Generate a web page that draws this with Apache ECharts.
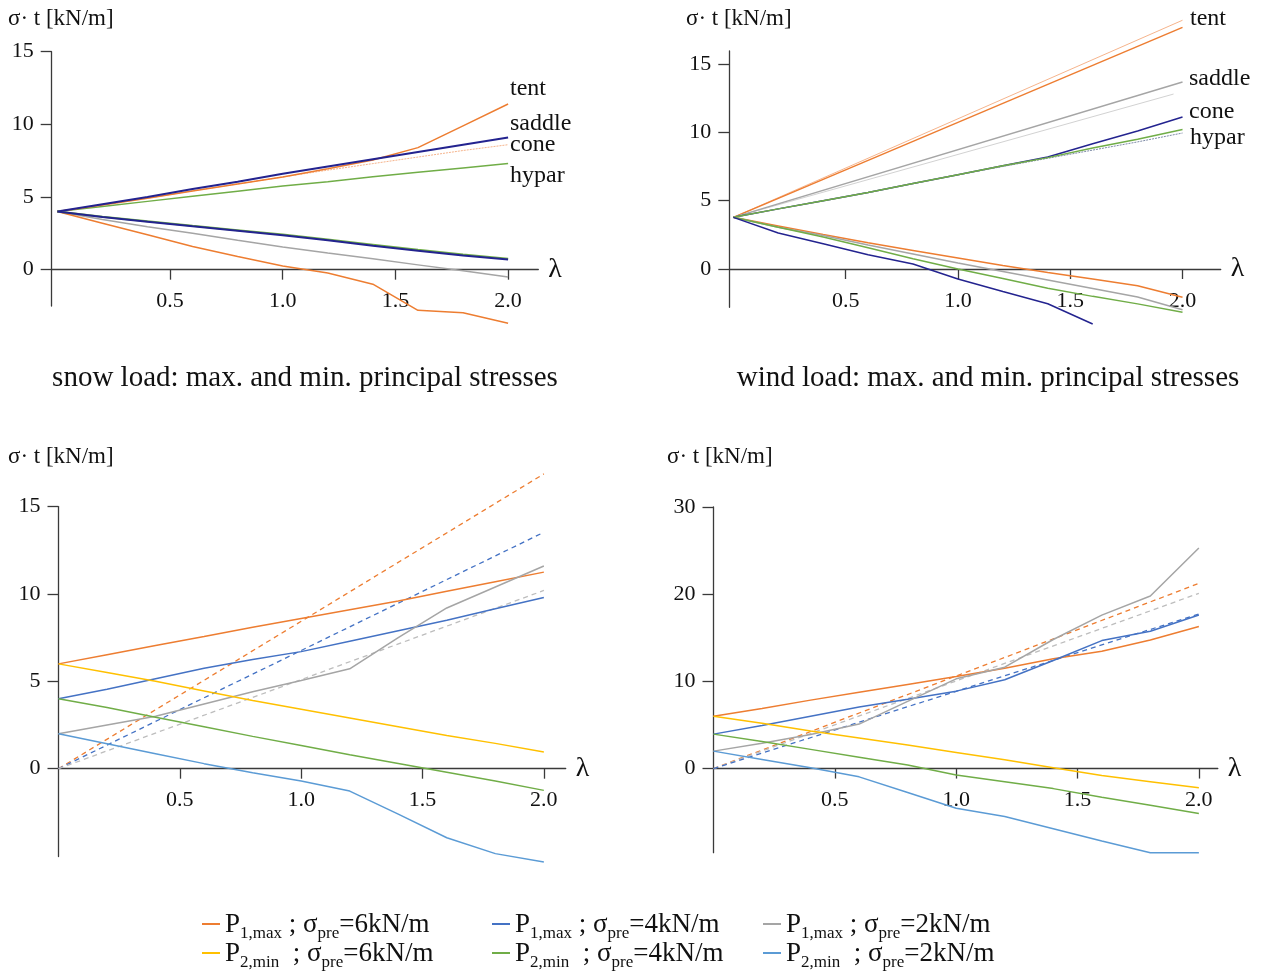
<!DOCTYPE html>
<html>
<head>
<meta charset="utf-8">
<script src="https://cdn.jsdelivr.net/npm/echarts@6/dist/echarts.min.js"></script>
<style>
html,body{margin:0;padding:0;background:#fff;}
#chart{width:1270px;height:971px;}
</style>
</head>
<body>
<div id="chart"></div>
<script>
// ---------- data ----------
const lam = [0, 0.2, 0.4, 0.6, 0.8, 1.0, 1.2, 1.4, 1.6, 1.8, 2.0];
const lamEnds = [0, 2.0];
const xTicks = [0.5, 1.0, 1.5, 2.0];
const yTicks15 = [0, 5, 10, 15];
const yTicks30 = [0, 10, 20, 30];

// snow load (top-left)
const snowTentMax   = [4.0, 4.45, 4.92, 5.42, 5.9, 6.38, 6.95, 7.55, 8.4, 9.9, 11.4];
const snowSaddleMax = [4.0, 4.5, 5.0, 5.55, 6.05, 6.6, 7.1, 7.6, 8.1, 8.6, 9.1];
const snowConeMax   = [4.0, 4.45, 4.92, 5.42, 5.9, 6.38, 6.85, 7.3, 7.75, 8.2, 8.6];
const snowHyparMax  = [4.0, 4.35, 4.7, 5.05, 5.4, 5.75, 6.05, 6.4, 6.7, 7.0, 7.3];
const snowNavyMin   = [4.0, 3.62, 3.3, 2.98, 2.68, 2.37, 2.02, 1.65, 1.3, 0.98, 0.7];
const snowGreenMin  = [4.0, 3.65, 3.33, 3.02, 2.72, 2.42, 2.07, 1.72, 1.37, 1.05, 0.75];
const snowGrayMin   = [4.0, 3.45, 2.95, 2.5, 2.02, 1.56, 1.15, 0.75, 0.33, -0.08, -0.5];
const snowOrangeMin = [4.0, 3.2, 2.4, 1.6, 0.9, 0.25, -0.23, -1.0, -2.8, -2.96, -3.68];

// wind load (top-right)
const windTentMax      = [3.78, 17.68];
const windTentThin     = [3.78, 18.2];
const windSaddleMax    = [3.78, 13.68];
const lamSaddleThin    = [0, 1.96];
const windSaddleThin   = [3.78, 12.8];
const windConeMax      = [3.78, 4.4, 5.0, 5.6, 6.25, 6.9, 7.55, 8.2, 9.17, 10.1, 11.12];
const windHyparMax     = [3.78, 4.4, 5.0, 5.6, 6.25, 6.9, 7.55, 8.15, 8.85, 9.5, 10.2];
const windHyparThin    = [3.78, 4.4, 5.0, 5.6, 6.25, 6.9, 7.5, 8.1, 8.7, 9.3, 9.95];
const windOrangeMin    = [3.78, 3.15, 2.52, 1.92, 1.36, 0.8, 0.25, -0.25, -0.73, -1.22, -2.07];
const windGrayMin      = [3.78, 3.05, 2.45, 1.75, 1.1, 0.44, -0.18, -0.8, -1.42, -2.05, -2.98];
const windGreenMin     = [3.78, 3.05, 2.35, 1.55, 0.75, 0.0, -0.7, -1.4, -2.0, -2.55, -3.17];
const lamNavy          = [0, 0.2, 0.4, 0.6, 0.8, 1.0, 1.2, 1.4, 1.6];
const windNavyMin      = [3.78, 2.63, 1.85, 1.05, 0.37, -0.73, -1.65, -2.54, -4.02];

// bottom-left
const bl_P1max6 = [6.0, 6.52, 7.05, 7.57, 8.1, 8.6, 9.1, 9.6, 10.15, 10.7, 11.25];
const bl_P1max4 = [4.0, 4.55, 5.15, 5.75, 6.25, 6.7, 7.3, 7.9, 8.5, 9.15, 9.8];
const bl_P1max2 = [2.0, 2.5, 3.0, 3.7, 4.4, 5.05, 5.72, 7.5, 9.2, 10.4, 11.6];
const bl_P2min6 = [6.0, 5.5, 5.0, 4.45, 3.9, 3.4, 2.9, 2.4, 1.9, 1.45, 0.95];
const bl_P2min4 = [4.0, 3.5, 2.95, 2.4, 1.85, 1.33, 0.8, 0.3, -0.2, -0.7, -1.24];
const bl_P2min2 = [2.0, 1.43, 0.86, 0.29, -0.23, -0.7, -1.28, -2.6, -3.95, -4.86, -5.34];
const bl_lin6 = [0, 16.87];
const bl_lin4 = [0, 13.53];
const bl_lin2 = [0, 10.2];

// bottom-right
const br_P1max6 = [6.0, 6.9, 7.85, 8.75, 9.65, 10.55, 11.5, 12.6, 13.45, 14.75, 16.3];
const br_P1max4 = [3.95, 4.95, 6.0, 7.05, 7.95, 8.88, 10.18, 12.4, 14.68, 15.75, 17.61];
const br_P1max2 = [2.0, 2.9, 3.9, 5.1, 7.7, 10.29, 11.63, 14.8, 17.6, 19.8, 25.3];
const br_P2min6 = [6.0, 5.2, 4.3, 3.5, 2.7, 1.85, 1.0, 0.1, -0.8, -1.5, -2.2];
const br_P2min4 = [3.95, 3.1, 2.2, 1.3, 0.4, -0.75, -1.5, -2.3, -3.3, -4.2, -5.15];
const br_P2min2 = [2.0, 1.05, 0.1, -0.95, -2.75, -4.55, -5.5, -6.9, -8.3, -9.65, -9.65];
const br_lin6 = [0, 21.24];
const br_lin4 = [0, 17.73];
const br_lin2 = [0, 20.1];

// texts
const yTitle = 'σ· t [kN/m]';
const snowTitle = 'snow load: max. and min. principal stresses';
const windTitle = 'wind load: max. and min. principal stresses';
const shapeNames = ['tent', 'saddle', 'cone', 'hypar'];
const legendNames = ['P1max6', 'P2min6', 'P1max4', 'P2min4', 'P1max2', 'P2min2'];
const legendSub1 = ['1,max', '2,min', '1,max', '2,min', '1,max', '2,min'];
const legendPre = ['6kN/m', '6kN/m', '4kN/m', '4kN/m', '2kN/m', '2kN/m'];

// ---------- styling ----------
const F = "'Liberation Serif', 'Times New Roman', serif";
const TXT = '#111';
const AX = '#3a3a3a';
const C = {
  orange: '#ED7D31', blue: '#4472C4', gray: '#A5A5A5',
  yellow: '#FFC000', green: '#70AD47', lblue: '#5B9BD5',
  navy: '#23238f', lorange: '#F6B48C', lgray: '#D2D2D2', bgray: '#7d8aa6'
};

function pair(xs, ys) { return ys.map((y, i) => [xs[i], y]); }

function line(gi, xs, ys, color, opts) {
  opts = opts || {};
  return {
    type: 'line', name: opts.name || undefined,
    xAxisIndex: gi, yAxisIndex: gi,
    data: pair(xs, ys),
    showSymbol: false, symbol: 'none', clip: false, silent: true,
    z: opts.z || 2,
    color: color,
    lineStyle: { color: color, width: opts.width || 1.5, type: opts.type || 'solid' },
    emphasis: { disabled: true }
  };
}

const grids = [
  { left: 51.7, top: 51.7, width: 486.6, height: 254.3 },
  { left: 729.3, top: 51, width: 491.4, height: 256.3 },
  { left: 58.5, top: 506.6, width: 507.2, height: 350 },
  { left: 713.5, top: 507, width: 504.3, height: 345.7 }
];
const xRanges = [[-0.025, 2.134], [-0.018, 2.17], [0, 2.09], [0, 2.078]];
const yRanges = [[-2.5, 15], [-2.8, 15.95], [-5.03, 15], [-9.65, 30]];
const yTickSets = [yTicks15, yTicks15, yTicks15, yTicks30];

function xAx(gi) {
  const g = grids[gi], yr = yRanges[gi];
  // move the x axis (line, ticks, labels, name) up to the y = 0 level
  const off = -g.height * (0 - yr[0]) / (yr[1] - yr[0]);
  return {
    type: 'value', gridIndex: gi, min: xRanges[gi][0], max: xRanges[gi][1],
    position: 'bottom', offset: off,
    name: 'λ', nameLocation: 'end', nameGap: 10,
    nameTextStyle: { fontFamily: F, fontSize: 28, color: TXT, verticalAlign: 'middle' },
    axisLine: { show: true, onZero: false, lineStyle: { color: AX, width: 1.3 } },
    axisTick: { show: true, inside: false, length: 10, customValues: xTicks, lineStyle: { color: AX, width: 1.3 } },
    axisLabel: { show: true, customValues: xTicks, formatter: v => Number(v).toFixed(1), margin: 21,
      fontFamily: F, fontSize: 22, color: TXT },
    splitLine: { show: false }
  };
}
function yAx(gi) {
  return {
    type: 'value', gridIndex: gi, min: yRanges[gi][0], max: yRanges[gi][1],
    axisLine: { show: true, onZero: false, lineStyle: { color: AX, width: 1.3 } },
    axisTick: { show: true, inside: false, length: 11, customValues: yTickSets[gi], lineStyle: { color: AX, width: 1.3 } },
    axisLabel: { show: true, customValues: yTickSets[gi], margin: 18, fontFamily: F, fontSize: 22, color: TXT },
    splitLine: { show: false }
  };
}

const series = [
  // snow
  line(0, lam, snowHyparMax, C.green),
  line(0, lam, snowConeMax, C.lorange, { width: 1, type: [2, 1] }),
  line(0, lam, snowTentMax, C.orange),
  line(0, lam, snowSaddleMax, C.navy, { width: 2 }),
  line(0, lam, snowGrayMin, C.gray),
  line(0, lam, snowOrangeMin, C.orange),
  line(0, lam, snowGreenMin, C.green, { width: 2 }),
  line(0, lam, snowNavyMin, C.navy, { width: 2 }),
  // wind
  line(1, lamEnds, windTentThin, C.lorange, { width: 1 }),
  line(1, lamEnds, windTentMax, C.orange),
  line(1, lamSaddleThin, windSaddleThin, C.lgray, { width: 1 }),
  line(1, lamEnds, windSaddleMax, C.gray),
  line(1, lam, windConeMax, C.navy),
  line(1, lam, windHyparThin, C.bgray, { width: 1, type: [2, 1] }),
  line(1, lam, windHyparMax, C.green),
  line(1, lam, windOrangeMin, C.orange),
  line(1, lam, windGrayMin, C.gray),
  line(1, lam, windGreenMin, C.green),
  line(1, lamNavy, windNavyMin, C.navy),
  // bottom-left
  line(2, lamEnds, bl_lin6, C.orange, { width: 1.3, type: [5, 4] }),
  line(2, lamEnds, bl_lin4, C.blue, { width: 1.3, type: [5, 4] }),
  line(2, lamEnds, bl_lin2, '#bdbdbd', { width: 1.3, type: [5, 4] }),
  line(2, lam, bl_P1max6, C.orange, { name: 'P1max6' }),
  line(2, lam, bl_P1max4, C.blue, { name: 'P1max4' }),
  line(2, lam, bl_P1max2, C.gray, { name: 'P1max2' }),
  line(2, lam, bl_P2min6, C.yellow, { name: 'P2min6' }),
  line(2, lam, bl_P2min4, C.green, { name: 'P2min4' }),
  line(2, lam, bl_P2min2, C.lblue, { name: 'P2min2' }),
  // bottom-right
  line(3, lamEnds, br_lin6, C.orange, { width: 1.3, type: [5, 4] }),
  line(3, lamEnds, br_lin2, '#bdbdbd', { width: 1.3, type: [5, 4] }),
  line(3, lamEnds, br_lin4, C.blue, { width: 1.3, type: [5, 4] }),
  line(3, lam, br_P1max6, C.orange, { name: 'P1max6' }),
  line(3, lam, br_P1max4, C.blue, { name: 'P1max4' }),
  line(3, lam, br_P1max2, C.gray, { name: 'P1max2' }),
  line(3, lam, br_P2min6, C.yellow, { name: 'P2min6' }),
  line(3, lam, br_P2min4, C.green, { name: 'P2min4' }),
  line(3, lam, br_P2min2, C.lblue, { name: 'P2min2' })
];

function txt(text, x, y, size, align) {
  return { type: 'text', x: x, y: y, silent: true,
    style: { text: text, fontFamily: F, fontSize: size, fill: TXT, align: align || 'left', verticalAlign: 'middle' } };
}
const graphics = [
  txt(yTitle, 8, 19, 23), txt(yTitle, 686, 19, 23),
  txt(yTitle, 8, 457, 23), txt(yTitle, 667, 457, 23),
  txt(snowTitle, 305, 378, 29, 'center'), txt(windTitle, 988, 378, 29, 'center'),
  txt(shapeNames[0], 510, 89, 24), txt(shapeNames[1], 510, 124, 24),
  txt(shapeNames[2], 510, 145, 24), txt(shapeNames[3], 510, 176, 24),
  txt(shapeNames[0], 1190, 19, 24), txt(shapeNames[1], 1189, 79, 24),
  txt(shapeNames[2], 1189, 112, 24), txt(shapeNames[3], 1190, 138, 24)
];

const rich = {
  p: { fontFamily: F, fontSize: 27, color: TXT, lineHeight: 28, verticalAlign: 'bottom' },
  s: { fontFamily: F, fontSize: 17, color: TXT, lineHeight: 28, verticalAlign: 'bottom', padding: [0, 0, -4, 0] }
};
function legendFmt(name) {
  const i = legendNames.indexOf(name);
  const gap = legendSub1[i].startsWith('2') ? '  ; σ' : ' ; σ';
  return '{p|P}{s|' + legendSub1[i] + '}{p|' + gap + '}{s|pre}{p|=' + legendPre[i] + '}';
}
function legendItem(name, left, top) {
  return {
    data: [name], left: left, top: top, padding: 0, orient: 'horizontal',
    icon: 'rect', itemWidth: 18, itemHeight: 2, selectedMode: false,
    formatter: legendFmt,
    textStyle: { rich: rich, fontFamily: F, fontSize: 27, color: TXT }
  };
}

const option = {
  animation: false,
  backgroundColor: '#fff',
  grid: grids.map(g => Object.assign({}, g, { containLabel: false, outerBoundsMode: 'none' })),
  xAxis: [0, 1, 2, 3].map(xAx),
  yAxis: [0, 1, 2, 3].map(yAx),
  series: series,
  graphic: graphics,
  legend: [
    legendItem('P1max6', 202, 911), legendItem('P2min6', 202, 940),
    legendItem('P1max4', 492, 911), legendItem('P2min4', 492, 940),
    legendItem('P1max2', 763, 911), legendItem('P2min2', 763, 940)
  ]
};

const chart = echarts.init(document.getElementById('chart'), null, { renderer: 'canvas' });
chart.setOption(option);
</script>
</body>
</html>
